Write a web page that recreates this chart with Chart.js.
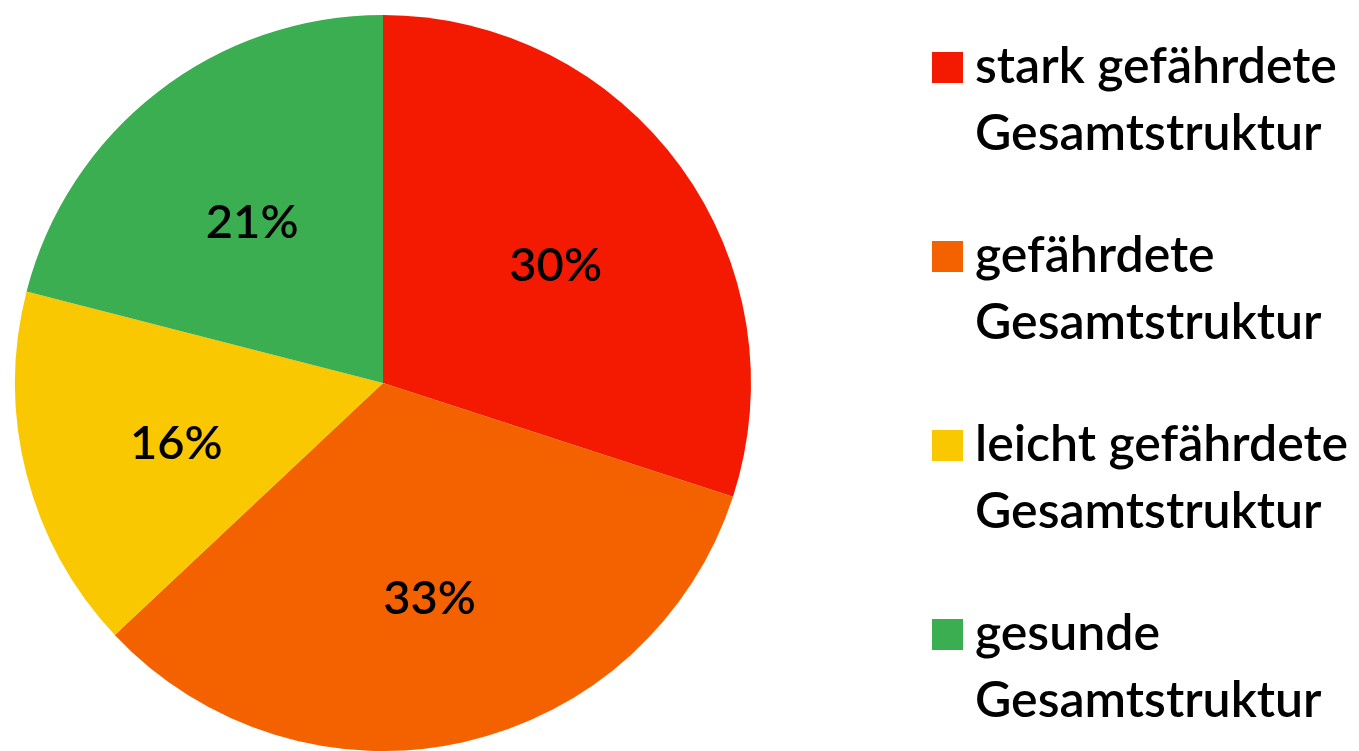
<!DOCTYPE html>
<html lang="de">
<head>
<meta charset="UTF-8">
<title>Gesamtstruktur</title>
<script src="https://cdn.jsdelivr.net/npm/chart.js@4.4.0/dist/chart.umd.min.js"></script>
<style>
	html, body { margin: 0; padding: 0; background: #fff; overflow: hidden; }
	#wrap { width: 1359px; height: 751px; position: relative; }
</style>
</head>
<body>
<div id="wrap"><canvas id="myChart"></canvas></div>

<script>
	// data
	const labels = [
		['stark gefährdete', 'Gesamtstruktur'],
		['gefährdete', 'Gesamtstruktur'],
		['leicht gefährdete', 'Gesamtstruktur'],
		['gesunde', 'Gesamtstruktur']
	]
	const values = [30, 33, 16, 21]
	const colors = ['#f41a02', '#f46200', '#f9c800', '#3bae52']

	const fontName = 'Lato, "Open Sans", sans-serif'

	// percent text inside each slice
	const sliceLabels = {
		id: 'sliceLabels',
		afterDatasetsDraw(chart) {
			const ctx = chart.ctx
			const meta = chart.getDatasetMeta(0)
			const total = values.reduce((a, b) => a + b, 0)
			ctx.save()
			ctx.font = '600 47px ' + fontName
			ctx.fillStyle = '#000'
			ctx.textAlign = 'center'
			ctx.textBaseline = 'middle'
			meta.data.forEach(function(arc, i) {
				const p = arc.getProps(['x', 'y', 'startAngle', 'endAngle', 'outerRadius'], true)
				const mid = (p.startAngle + p.endAngle) / 2
				const r = p.outerRadius * 0.58
				const pct = Math.round(values[i] / total * 100) + '%'
				ctx.fillText(pct, p.x + Math.cos(mid) * r, p.y + Math.sin(mid) * r + 8)
			})
			ctx.restore()
		}
	}

	// legend on the right, two lines per entry
	const sideLegend = {
		id: 'sideLegend',
		afterDraw(chart) {
			const ctx = chart.ctx
			const x0 = 932
			const box = 31
			const step = 189
			const lineGap = 67
			ctx.save()
			ctx.font = '600 50px ' + fontName
			ctx.textBaseline = 'alphabetic'
			ctx.textAlign = 'left'
			labels.forEach(function(lines, i) {
				const base = 83 + i * step
				ctx.fillStyle = colors[i]
				ctx.fillRect(x0, base - box, box, box)
				ctx.fillStyle = '#000'
				lines.forEach(function(t, j) {
					ctx.fillText(t, x0 + 43, base + j * lineGap)
				})
			})
			ctx.restore()
		}
	}

	var ctx = document.getElementById('myChart').getContext('2d')

	var chart = new Chart(ctx, {
		type: 'pie',
		data: {
			labels: labels.map(l => l.join(' ')),
			datasets: [{
				data: values,
				backgroundColor: colors,
				borderWidth: 0
			}]
		},
		options: {
			responsive: true,
			maintainAspectRatio: false,
			animation: false,
			layout: {
				padding: { left: 15, top: 15, bottom: 0, right: 608 }
			},
			plugins: {
				legend: { display: false },
				tooltip: { enabled: false }
			}
		},
		plugins: [sliceLabels, sideLegend]
	})
</script>
</body>
</html>
